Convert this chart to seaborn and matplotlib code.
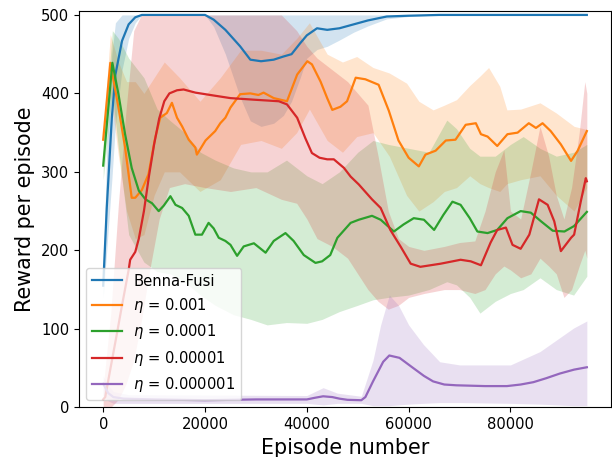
import numpy as np
import pandas as pd
import matplotlib
matplotlib.use("Agg")
import matplotlib.pyplot as plt
import seaborn as sns

# ---------------- data ----------------
labels = ["Benna-Fusi", r"$\eta$ = 0.001", r"$\eta$ = 0.0001",
          r"$\eta$ = 0.00001", r"$\eta$ = 0.000001"]
colors = ["#1f77b4", "#ff7f0e", "#2ca02c", "#d62728", "#9467bd"]

# Benna-Fusi
bf_ep = [0, 700, 1700, 2400, 3700, 5000, 6300, 7600, 20000, 21700, 24000, 26900,
         28900, 31000, 33500, 35400, 37000, 38700, 40000, 42000, 44000, 46400,
         49200, 52000, 55700, 60000, 66000, 95000]
bf_mean = [155, 254, 369, 424, 467, 488, 497, 500, 500, 494, 481, 460,
           443, 441, 443, 447, 450, 464, 474, 483, 481, 483,
           488, 493, 498, 499, 500, 500]
bf_lo = [140, 200, 290, 360, 430, 470, 490, 500, 500, 485, 450, 395,
         365, 358, 362, 372, 390, 420, 445, 456, 460, 468,
         478, 486, 495, 498, 500, 500]
bf_hi = [170, 330, 450, 490, 500, 500, 500, 500, 500, 500, 500, 500,
         500, 500, 500, 500, 500, 500, 500, 500, 500, 500,
         500, 500, 500, 500, 500, 500]

# eta = 0.001
o_ep = [0, 1400, 3000, 4300, 5600, 6300, 7600, 8900, 10200, 11200, 12500, 13500,
        14500, 15500, 16800, 18100, 18400, 20100, 22000, 23000, 24000, 25000, 26900,
        28900, 30500, 31500, 33500, 36100, 38100, 40100, 41000, 42700, 44000,
        45000, 46600, 47900, 49600, 51500, 54100, 56100, 58000, 60000, 62000,
        63300, 65300, 67300, 69200, 71200, 73200, 74200, 75500, 77400, 79400,
        81400, 83600, 85000, 86300, 87900, 89900, 91900, 93200, 95000]
o_mean = [341, 439, 382, 331, 267, 267, 277, 297, 343, 369, 375, 388,
          369, 358, 341, 331, 322, 340, 352, 362, 369, 382, 399,
          400, 398, 401, 394, 390, 424, 441, 437, 415, 394,
          379, 383, 390, 420, 418, 411, 378, 340, 318, 307,
          322, 327, 340, 341, 360, 362, 348, 345, 333, 348,
          350, 362, 356, 362, 352, 335, 314, 327, 352]
ob_ep = [0, 1400, 3000, 4600, 6300, 8000, 10000, 12000, 15000, 19000, 23000,
         27000, 31000, 35000, 38000, 40500, 44000, 47000, 49800, 53000, 56200,
         59600, 62000, 64800, 67000, 69400, 72000, 74000, 75700, 77900, 79300,
         82000, 85800, 89000, 92500, 95000]
o_lo = [330, 400, 320, 250, 215, 220, 270, 300, 300, 275, 290,
        335, 340, 330, 350, 380, 340, 325, 345, 350, 320,
        270, 250, 262, 275, 280, 295, 285, 280, 275, 285,
        290, 295, 270, 250, 280]
o_hi = [352, 475, 440, 415, 415, 400, 420, 440, 420, 390, 420,
        455, 455, 450, 470, 490, 450, 440, 447, 433, 426,
        413, 390, 379, 385, 392, 410, 422, 433, 409, 379,
        380, 388, 375, 358, 354]

# eta = 0.0001
g_ep = [0, 1800, 3000, 4300, 5600, 7000, 8300, 9600, 10900, 11900, 13200, 14200,
        15500, 16800, 18100, 19400, 20700, 21700, 22700, 24000, 25000, 26300,
        27600, 29600, 31900, 33500, 35800, 37400, 39400, 41700, 43000, 44600,
        46000, 48600, 50200, 52800, 54500, 57100, 59000, 61000, 63000, 65000,
        66800, 68600, 70200, 72000, 73500, 75500, 77400, 79400, 82000, 84000,
        86000, 88300, 90600, 92500, 95000]
g_mean = [308, 439, 399, 348, 305, 276, 265, 260, 250, 257, 269, 258,
          254, 244, 220, 220, 235, 228, 216, 212, 207, 193,
          205, 209, 197, 212, 222, 212, 194, 184, 186, 194,
          216, 235, 239, 244, 239, 224, 233, 241, 239, 226,
          245, 262, 258, 241, 224, 222, 226, 241, 250, 248,
          237, 225, 224, 231, 249]
gb_ep = [0, 1800, 3000, 5000, 8000, 10600, 13200, 16000, 19100, 22000, 25600,
         29000, 32200, 36000, 40000, 43000, 46400, 50000, 53000, 56000, 60000,
         64000, 67500, 69400, 72000, 74000, 77000, 80000, 82500, 85800, 89000,
         92400, 95000]
g_lo = [290, 400, 330, 220, 185, 173, 170, 160, 143, 130, 118,
        112, 105, 108, 107, 112, 122, 130, 137, 140, 143,
        150, 160, 156, 140, 120, 135, 145, 150, 165, 150,
        143, 167]
g_hi = [325, 480, 470, 445, 420, 380, 365, 350, 325, 315, 305,
        300, 300, 315, 295, 285, 300, 325, 340, 335, 330,
        325, 366, 355, 330, 320, 320, 335, 345, 330, 320,
        325, 335]

# eta = 0.00001
r_ep = [0, 400, 1500, 2700, 3700, 5000, 5300, 6300, 7000, 8000, 9000, 10000,
        11000, 12000, 13000, 14500, 15800, 18100, 22000, 25000, 29600, 34500,
        36100, 38100, 39700, 41000, 42500, 44000, 45300, 47300, 48600, 50200,
        52800, 54500, 56400, 58400, 60400, 62300, 66300, 70200, 72200, 74200,
        76100, 77400, 79100, 80400, 82000, 83700, 85600, 87300, 88600, 89900,
        91900, 92500, 93800, 94800, 95000]
r_mean = [10, 13, 52, 94, 130, 175, 188, 198, 215, 250, 295, 335,
          368, 390, 400, 404, 405, 401, 397, 394, 392, 390,
          386, 369, 343, 324, 318, 316, 316, 305, 294, 284,
          265, 254, 226, 205, 183, 179, 183, 188, 186, 181,
          210, 226, 229, 207, 202, 220, 265, 258, 237, 199,
          216, 220, 262, 292, 288]
rb_ep = [0, 1500, 3000, 4500, 6000, 7500, 9000, 11000, 13000, 16000, 20000,
         25000, 30000, 35000, 38000, 40000, 42000, 45000, 48000, 50000, 52000,
         54000, 56000, 58000, 60000, 63000, 67000, 70000, 73000, 75000, 77000,
         78700, 80000, 82000, 84000, 85800, 87500, 89000, 90500, 92000, 93500,
         94600, 95000]
r_lo = [0, 0, 10, 30, 60, 110, 170, 240, 280, 285, 280,
        275, 280, 265, 260, 240, 215, 205, 190, 170, 150,
        135, 125, 130, 140, 145, 150, 150, 145, 150, 170,
        180, 175, 165, 170, 190, 180, 170, 140, 150, 180,
        200, 190]
r_hi = [25, 120, 260, 380, 480, 500, 500, 500, 500, 500, 500,
        500, 500, 500, 480, 460, 445, 430, 415, 400, 385,
        320, 250, 215, 205, 200, 205, 210, 212, 250, 300,
        328, 250, 240, 300, 358, 320, 270, 240, 280, 350,
        415, 400]

# eta = 0.000001
p_ep = [0, 1000, 2000, 4000, 10000, 20000, 30000, 38000, 40000, 41500, 43200,
        45000, 46400, 48000, 50700, 51500, 53000, 55000, 56200, 58200, 60900,
        63000, 64800, 67000, 69400, 75000, 79300, 82000, 84500, 87000, 89700,
        92500, 95000]
p_mean = [30, 18, 13, 11, 10, 9, 10, 10, 10, 12, 14,
          13, 11, 9.5, 9, 13, 33, 58, 66, 63, 50,
          40, 33, 29, 28, 27, 27, 29, 32, 37, 43,
          48, 51]
pb_ep = [0, 1000, 2000, 5000, 40000, 43200, 46000, 50700, 51500, 53000, 54500,
         56200, 58000, 60000, 62900, 66100, 70000, 80000, 85800, 92400, 95000]
p_lo = [15, 8, 5, 5, 5, 3, 5, 5, 4, 2, 2,
        2, 3, 4, 5, 6, 6, 5, 4, 2, 2]
p_hi = [40, 28, 20, 16, 15, 25, 18, 14, 30, 60, 105,
        143, 130, 105, 80, 58, 54, 54, 71, 101, 110]

series = [
    (bf_ep, bf_mean, bf_ep, bf_lo, bf_hi),
    (o_ep, o_mean, ob_ep, o_lo, o_hi),
    (g_ep, g_mean, gb_ep, g_lo, g_hi),
    (r_ep, r_mean, rb_ep, r_lo, r_hi),
    (p_ep, p_mean, pb_ep, p_lo, p_hi),
]

# ---------------- plot ----------------
fig = plt.figure(figsize=(6.12, 4.57), dpi=100)
ax = fig.add_axes([0.1291, 0.1088, 0.8693, 0.8671])

for (ep, mean, bep, lo, hi), lab, col in zip(series, labels, colors):
    df = pd.DataFrame({"Episode": ep, "Reward": mean})
    sns.lineplot(data=df, x="Episode", y="Reward", ax=ax, color=col,
                 label=lab, linewidth=1.6, estimator=None, sort=False)
    ax.fill_between(bep, lo, hi, color=col, alpha=0.2, linewidth=0, zorder=1)

ax.set_xlim(-4750, 99750)
ax.set_ylim(0, 505)
ax.set_xticks([0, 20000, 40000, 60000, 80000])
ax.set_yticks([0, 100, 200, 300, 400, 500])
ax.tick_params(labelsize=10.6)
ax.set_xlabel("Episode number", fontsize=14.9)
ax.set_ylabel("Reward per episode", fontsize=14.9)
ax.legend(loc="lower left", fontsize=10.6)

fig.savefig("out.png", dpi=100)
